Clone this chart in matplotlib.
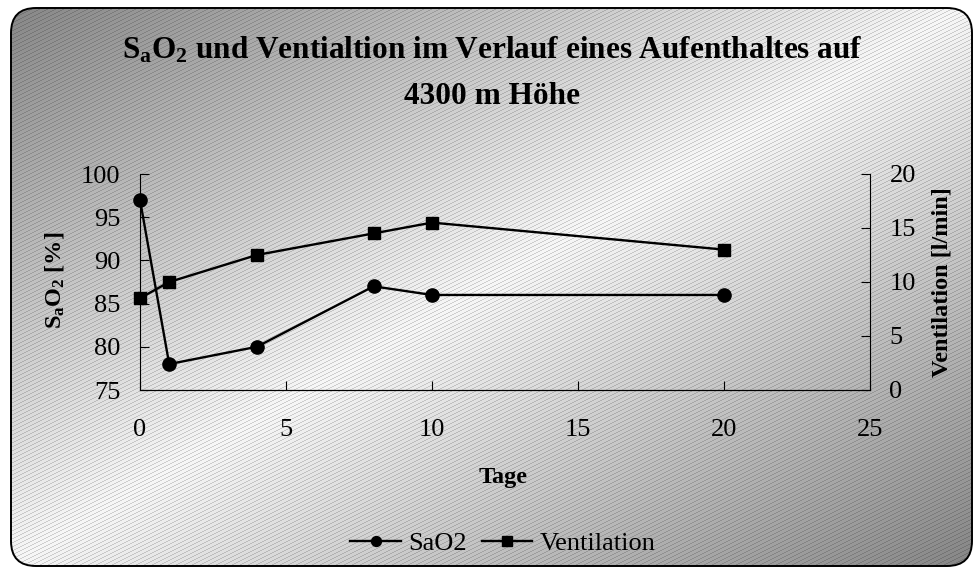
import numpy as np
import matplotlib
matplotlib.use("Agg")
import matplotlib.pyplot as plt
from matplotlib.patches import FancyBboxPatch

# data
tage = [0, 1, 4, 8, 10, 20]
sao2 = [97, 78, 80, 87, 86, 86]
ventilation = [8.5, 10, 12.5, 14.5, 15.5, 13]

x_ticks = [0, 5, 10, 15, 20, 25]
sao2_ticks = [75, 80, 85, 90, 95, 100]
vent_ticks = [0, 5, 10, 15, 20]

W, H = 975, 569

plt.rcParams["font.family"] = ["Liberation Serif", "DejaVu Serif"]
plt.rcParams["mathtext.fontset"] = "custom"
plt.rcParams["mathtext.rm"] = "Liberation Serif"
plt.rcParams["mathtext.bf"] = "Liberation Serif:bold"
plt.rcParams["mathtext.it"] = "Liberation Serif:italic"


def main():
    fig = plt.figure(figsize=(W / 100, H / 100), dpi=100)

    # background: diagonal grey gradient with fine stripes, inside a rounded box
    bg = fig.add_axes([0, 0, 1, 1])
    yy, xx = np.mgrid[0:H, 0:W]
    t = np.abs(xx / W + yy / H - 1)
    gray = 0.97 - 0.45 * t
    stripes = ((xx + 2 * yy) % 8) < 2
    gray = np.where(stripes, gray * 0.84, gray)
    img = bg.imshow(np.dstack([gray] * 3), extent=(0, W, H, 0),
                    interpolation="nearest", aspect="auto", zorder=0)
    bg.set_xlim(0, W)
    bg.set_ylim(H, 0)
    bg.axis("off")
    box = FancyBboxPatch((11, 8), 961, 558, boxstyle="round,pad=0,rounding_size=25",
                         fc="none", ec="black", lw=1.4, zorder=2)
    bg.add_patch(box)
    img.set_clip_path(box)

    ax = fig.add_axes([140 / W, 1 - 390 / H, 730 / W, 216 / H])
    ax.patch.set_alpha(0)
    ax2 = ax.twinx()

    l1, = ax.plot(tage, sao2, color="black", lw=1.7, marker="o", ms=9.5, label="SaO2",
                  clip_on=False)
    l2, = ax2.plot(tage, ventilation, color="black", lw=1.7, marker="s", ms=9, label="Ventilation",
                   clip_on=False)

    ax.set_xlim(0, 25)
    ax.set_ylim(75, 100)
    ax2.set_ylim(0, 20)
    ax.set_xticks(x_ticks)
    ax.set_yticks(sao2_ticks)
    ax2.set_yticks(vent_ticks)

    for a in (ax, ax2):
        a.spines["top"].set_visible(False)
        for s in a.spines.values():
            s.set_linewidth(0.8)
        a.tick_params(direction="in", length=6.5, width=0.8, labelsize=19, pad=14)
    ax.spines["right"].set_visible(False)
    ax2.spines["left"].set_visible(False)
    ax.tick_params(axis="x", pad=21)

    fig.text(492 / W, 1 - 50 / H,
             r"$\mathbf{S_aO_2}$ und Ventialtion im Verlauf eines Aufenthaltes auf",
             ha="center", va="center", fontsize=22.5, fontweight="bold")
    fig.text(492 / W, 1 - 97 / H, "4300 m Höhe",
             ha="center", va="center", fontsize=22.5, fontweight="bold")

    fig.text(503 / W, 1 - 477 / H, "Tage", ha="center", va="center",
             fontsize=17.5, fontweight="bold")
    fig.text(55 / W, 1 - 280 / H, r"$\mathbf{S_aO_2}$ [%]", ha="center", va="center",
             rotation=90, fontsize=17.5, fontweight="bold")
    fig.text(942 / W, 1 - 282 / H, "Ventilation [l/min]", ha="center", va="center",
             rotation=90, fontsize=17.5, fontweight="bold")

    fig.legend(handles=[l1, l2], loc="center", bbox_to_anchor=(503 / W, 1 - 543 / H),
               ncol=2, frameon=False, fontsize=19, markerscale=0.75,
               handlelength=1.9, handletextpad=0.3, columnspacing=0.55)

    fig.savefig("out.png", dpi=100)


if __name__ == "__main__":
    main()
